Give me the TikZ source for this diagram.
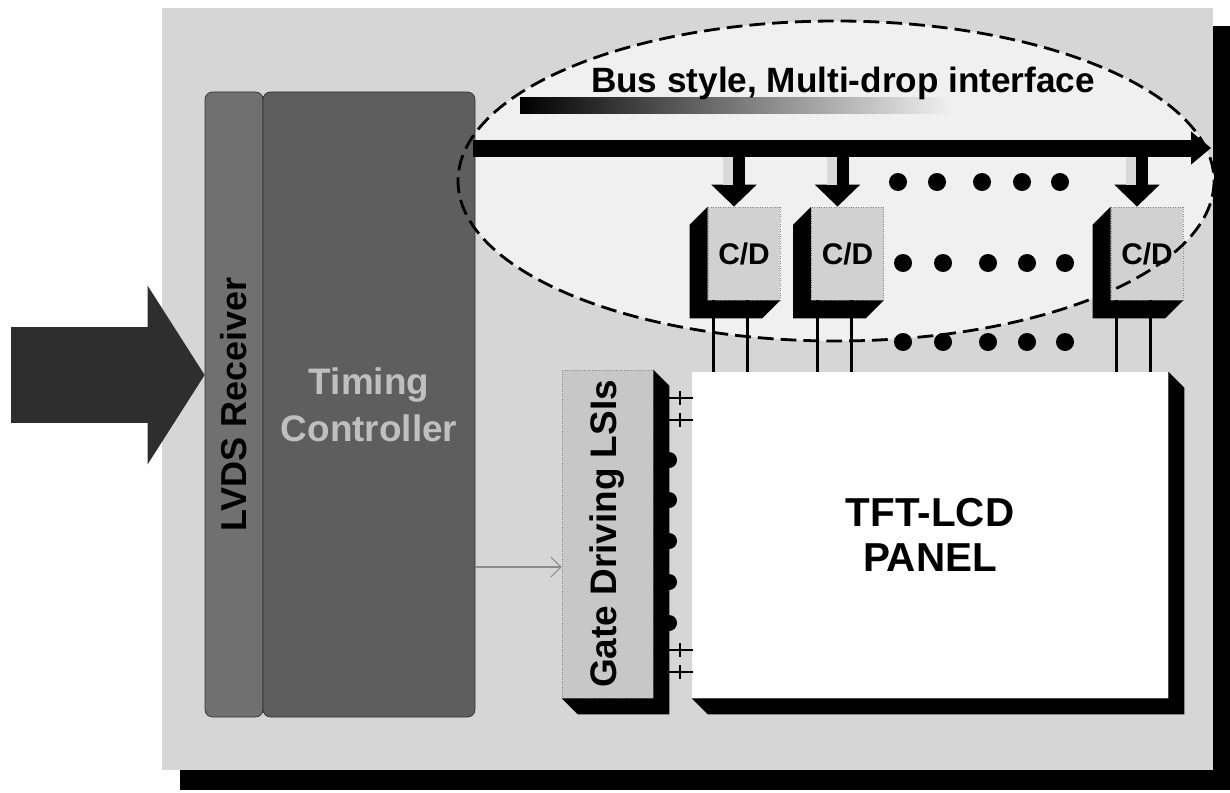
\documentclass[tikz,border=0pt]{standalone}
\usepackage{fontspec}
\setmainfont{Liberation Sans}
\usepackage{tikz}
\usetikzlibrary{shapes.geometric, arrows.meta, positioning}

\begin{document}
\begin{tikzpicture}[x=0.2mm, y=-0.2mm,
        lvdsbox/.style = {rectangle, rounded corners=1.5mm, draw=black!80, fill=black!56, minimum width=11.6mm, minimum height=125mm, inner sep=0pt, font=\fontsize{20.5}{24}\selectfont\bfseries},
        tcbox/.style = {rectangle, rounded corners=1.5mm, draw=black!80, fill=black!63, minimum width=42.4mm, minimum height=125mm, inner sep=0pt, align=center, text=black!25, font=\fontsize{21}{26.7}\selectfont\bfseries},
        cdbox/.style = {rectangle, draw=black!45, densely dotted, fill=black!18, minimum width=14.4mm, minimum height=18.6mm, inner sep=0pt, font=\fontsize{17}{20}\selectfont\bfseries},
        gatebox/.style = {rectangle, draw=black!45, densely dotted, fill=black!22, minimum width=18.2mm, minimum height=65.6mm, inner sep=0pt, font=\fontsize{21}{25}\selectfont\bfseries},
        panelbox/.style = {rectangle, fill=white, minimum width=95.2mm, minimum height=65.2mm, inner sep=0pt, align=center, font=\fontsize{23}{25.6}\selectfont\bfseries},
        busarea/.style = {ellipse, fill=black!6, minimum width=151.2mm, minimum height=64mm, inner sep=0pt},
        busedge/.style = {draw=black, line width=1.6pt, dash pattern=on 9pt off 4pt},
        inarrow/.style = {draw=black!82, line width=19.2mm, -{Triangle[length=11.4mm, width=35.2mm]}},
        busarrow/.style = {draw=black, line width=3.4mm, -{Triangle[length=4mm, width=6.4mm]}},
        droparrow/.style = {draw=black, line width=4.4mm, -{Triangle[length=4.4mm, width=8.8mm]}},
        ctrlarrow/.style = {draw=black!45, line width=0.6pt, -{Straight Barb[length=2mm]}},
        pin/.style = {draw=black, line width=1.6pt}
    ]

    \useasboundingbox (0,0) rectangle (1230,792);

    \fill[black] (180,26) rectangle (1230,790);
    \fill[black!16] (162,8) rectangle (1213,770);

    \node[busarea] (busarea) at (836,181) {};

    \node[lvdsbox] (lvds) at (234,404.5) {\rotatebox{90}{LVDS Receiver}};
    \node[tcbox] (tc) at (369,404.5) {Timing\\Controller};

    \coordinate (in) at (11,375);
    \draw[inarrow] (in) -- (in -| lvds.west);

    \shade[left color=black, right color=black!6] (520,98) rectangle (950,114);
    \node[anchor=base, font=\fontsize{20}{23}\selectfont\bfseries] (bustext) at (843,93) {Bus style, Multi-drop interface};

    \coordinate (busL) at (473,148);
    \coordinate (busR) at (1211,148);
    \draw[busarrow] (busL) -- (busR);

    \node[panelbox] (panel) at (930,535) {TFT-LCD\\PANEL};
    \node[gatebox] (gate) at (607.5,534) {\rotatebox{90}{Gate Driving LSIs}};

    \foreach \n in {gate,panel} {
        \fill[black] (\n.north east) -- ++(16,16) -- ([shift={(16,16)}]\n.south east) -- ([shift={(16,16)}]\n.south west) -- (\n.south west) -- (\n.south east) -- cycle;
    }

    \coordinate (g) at (0,567);
    \draw[ctrlarrow] (tc.east |- g) -- (gate.west |- g);

    \foreach \y in {398,420,650,672} {
        \draw[pin] (669,\y) -- (693,\y);
        \draw[pin] (680,\y) ++(0,-7) -- ++(0,14);
    }
    \foreach \y in {460,500,541,582,623}
        \fill[black] (669,\y) circle (8);

    \node[cdbox] (cd1) at (744,253.5) {C/D};
    \node[cdbox] (cd2) at (847.5,253.5) {C/D};
    \node[cdbox] (cd3) at (1147,253.5) {C/D};

    \foreach \n in {cd1,cd2,cd3} {
        \fill[black] (\n.north west) -- ++(-18,18) -- ([shift={(-18,18)}]\n.south west) -- ([shift={(-18,18)}]\n.south east) -- (\n.south east) -- (\n.south west) -- cycle;
        \foreach \dx in {6,40} {
            \coordinate (p) at ([shift={(\dx,0)}]\n.south west);
            \draw[pin] (p) -- (p |- panel.north);
        }
        \coordinate (t) at ([shift={(-10,0)}]\n.north);
        \coordinate (s) at (t |- busR);
        \draw[droparrow] (s) -- (t);
        \draw[line width=2mm, draw=black!15] ([shift={(-6,9)}]s) -- ([shift={(-6,-22)}]t);
    }

    \foreach \x in {898,937,982,1022,1060}
        \fill (\x,182) circle (9);
    \foreach \x in {903,943,988,1027,1065} {
        \fill (\x,263) circle (9);
        \fill (\x,342) circle (9);
    }

    \draw[busedge] (busarea.center) ellipse [x radius=378, y radius=160];

\end{tikzpicture}
\end{document}
